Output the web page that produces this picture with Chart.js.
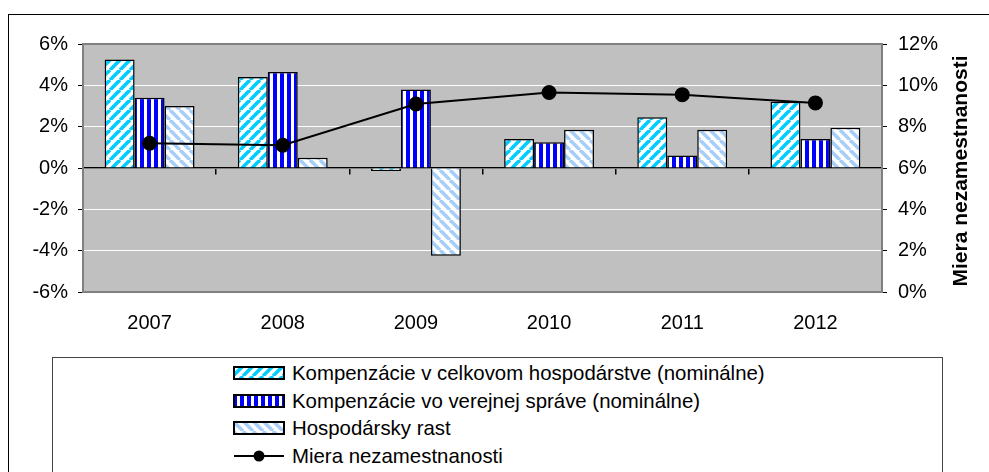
<!DOCTYPE html>
<html>
<head>
<meta charset="utf-8">
<script src="https://cdn.jsdelivr.net/npm/chart.js@4.4.0/dist/chart.umd.min.js"></script>
<style>
    body { margin: 0; background: #fff; font-family: "Liberation Sans", Arial, sans-serif; }
    #wrap { position: relative; width: 989px; height: 472px; overflow: hidden; }
    #frame { position: absolute; left: 8px; top: 14px; width: 1200px; height: 600px; border-left: 1px solid #000; border-top: 1px solid #000; }
    #myChart { position: absolute; left: 0; top: 0; }
    #legend { position: absolute; left: 52px; top: 357px; width: 889px; height: 200px; border: 1px solid #444; background: #fff; }
    .item { position: absolute; left: 180px; height: 24px; font-size: 20.4px; line-height: 24px; white-space: nowrap; color: #000; }
    .item canvas { position: absolute; left: 0; top: 5px; }
    .item span { position: absolute; left: 59px; top: 0; }
</style>
</head>
<body>
<div id="wrap">
    <div id="frame"></div>
    <canvas id="myChart" width="989" height="472"></canvas>
    <div id="legend"></div>
</div>
<script>
// data
const years = ['2007', '2008', '2009', '2010', '2011', '2012'];
const kompCelkom = [5.25, 4.4, -0.15, 1.4, 2.45, 3.2];
const kompVerejna = [3.4, 4.65, 3.8, 1.25, 0.6, 1.4];
const hospRast = [3.0, 0.5, -4.25, 1.85, 1.85, 1.95];
const nezamestnanost = [7.2, 7.1, 9.1, 9.65, 9.55, 9.15];

const seriesNames = [
    'Kompenzácie v celkovom hospodárstve (nominálne)',
    'Kompenzácie vo verejnej správe (nominálne)',
    'Hospodársky rast',
    'Miera nezamestnanosti'
];
const rightTitle = 'Miera nezamestnanosti';

// hatch fills like the excel patterns
function makePattern(kind) {
    const c = document.createElement('canvas');
    const g = c.getContext('2d');
    if (kind === 'vert') {
        c.width = 7; c.height = 7;
        g.fillStyle = '#fff'; g.fillRect(0, 0, 7, 7);
        g.fillStyle = '#0000ff'; g.fillRect(0, 0, 4, 7);
    } else {
        const s = 10;
        c.width = s; c.height = s;
        g.fillStyle = '#fff'; g.fillRect(0, 0, s, s);
        g.strokeStyle = kind === 'up' ? '#00ccff' : '#a6cef8';
        g.lineWidth = 3.6;
        for (let k = -1; k <= 1; k++) {
            g.beginPath();
            if (kind === 'up') { g.moveTo(k * s, s); g.lineTo(k * s + s, 0); }
            else { g.moveTo(k * s, 0); g.lineTo(k * s + s, s); }
            g.stroke();
        }
    }
    return document.createElement('canvas').getContext('2d').createPattern(c, 'repeat');
}

const fills = [makePattern('up'), makePattern('vert'), makePattern('down')];

const plotBg = {
    id: 'plotBg',
    beforeDraw(chart) {
        const a = chart.chartArea, c = chart.ctx;
        c.save();
        c.fillStyle = '#c0c0c0';
        c.fillRect(a.left, a.top, a.right - a.left, a.bottom - a.top);
        c.restore();
    },
    beforeDatasetsDraw(chart) {
        const a = chart.chartArea, c = chart.ctx;
        c.save();
        c.strokeStyle = '#808080';
        c.lineWidth = 2;
        c.strokeRect(a.left, a.top, a.right - a.left, a.bottom - a.top);
        c.restore();
    },
    afterDraw(chart) {
        const c = chart.ctx, a = chart.chartArea;
        c.save();
        c.translate(chart.scales.y1.right - 28, (a.top + a.bottom) / 2 + 3);
        c.rotate(-Math.PI / 2);
        c.font = 'bold 21px "Liberation Sans"';
        c.fillStyle = '#000';
        c.textAlign = 'center';
        c.textBaseline = 'middle';
        c.fillText(rightTitle, 0, 0);
        c.restore();
    }
};

Chart.defaults.font.family = '"Liberation Sans", Arial, sans-serif';
Chart.defaults.font.size = 20;
Chart.defaults.color = '#000';

const barStyle = { type: 'bar', borderColor: '#000', borderWidth: 1.5, order: 1, yAxisID: 'y' };

let ctx = document.getElementById('myChart').getContext('2d');
let myChart = new Chart(ctx, {
    data: {
        labels: years,
        datasets: [
            { ...barStyle, label: seriesNames[0], data: kompCelkom, backgroundColor: fills[0] },
            { ...barStyle, label: seriesNames[1], data: kompVerejna, backgroundColor: fills[1] },
            { ...barStyle, label: seriesNames[2], data: hospRast, backgroundColor: fills[2] },
            {
                type: 'line', label: seriesNames[3], data: nezamestnanost, yAxisID: 'y1', order: 0,
                borderColor: '#000', borderWidth: 2, pointRadius: 6.5, pointBackgroundColor: '#000',
                pointBorderColor: '#000', tension: 0
            }
        ]
    },
    options: {
        responsive: false,
        animation: false,
        layout: { padding: { top: 44, bottom: 140, left: 0, right: 0 } },
        datasets: { bar: { categoryPercentage: 0.675, barPercentage: 1 } },
        plugins: { legend: { display: false }, tooltip: { enabled: false } },
        scales: {
            x: {
                type: 'category',
                offset: true,
                position: { y: 0 },
                grid: { offset: true, drawOnChartArea: false, tickLength: 6, tickColor: '#000', lineWidth: 1.5 },
                border: { color: '#000', width: 1.5 },
                ticks: { display: false }
            },
            x2: {
                type: 'category',
                offset: true,
                position: 'bottom',
                grid: { display: false },
                border: { display: false },
                ticks: { padding: 11, maxRotation: 0 },
                afterFit: s => { s.height = 40; }
            },
            y: {
                position: 'left',
                min: -6, max: 6,
                ticks: { stepSize: 2, padding: 10, callback: v => v + '%' },
                grid: { color: '#fff', lineWidth: 1, tickColor: '#000', tickLength: 5 },
                border: { color: '#707070', width: 1.5 },
                afterFit: s => { s.width = 83; }
            },
            y1: {
                position: 'right',
                min: 0, max: 12,
                ticks: { stepSize: 2, padding: 11, callback: v => v + '%' },
                grid: { drawOnChartArea: false, tickColor: '#000', tickLength: 5 },
                border: { color: '#303030', width: 1.5 },
                afterFit: s => { s.width = 107; }
            }
        }
    },
    plugins: [plotBg]
});

// legend box, one entry per row
const rowCenters = [15, 43, 70, 98];
const legendBox = document.getElementById('legend');
seriesNames.forEach(function (name, i) {
    const item = document.createElement('div');
    item.className = 'item';
    item.style.top = (rowCenters[i] - 12) + 'px';
    const sw = document.createElement('canvas');
    sw.width = 52; sw.height = 14;
    const g = sw.getContext('2d');
    if (i < 3) {
        g.fillStyle = fills[i];
        g.fillRect(1, 1, 50, 12);
        g.strokeStyle = '#000';
        g.lineWidth = 2;
        g.strokeRect(1, 1, 50, 12);
    } else {
        g.strokeStyle = '#000';
        g.lineWidth = 2;
        g.beginPath(); g.moveTo(1, 7); g.lineTo(51, 7); g.stroke();
        g.beginPath(); g.arc(26, 7, 5.5, 0, Math.PI * 2); g.fillStyle = '#000'; g.fill();
    }
    item.appendChild(sw);
    const t = document.createElement('span');
    t.textContent = name;
    item.appendChild(t);
    legendBox.appendChild(item);
});
</script>
</body>
</html>
